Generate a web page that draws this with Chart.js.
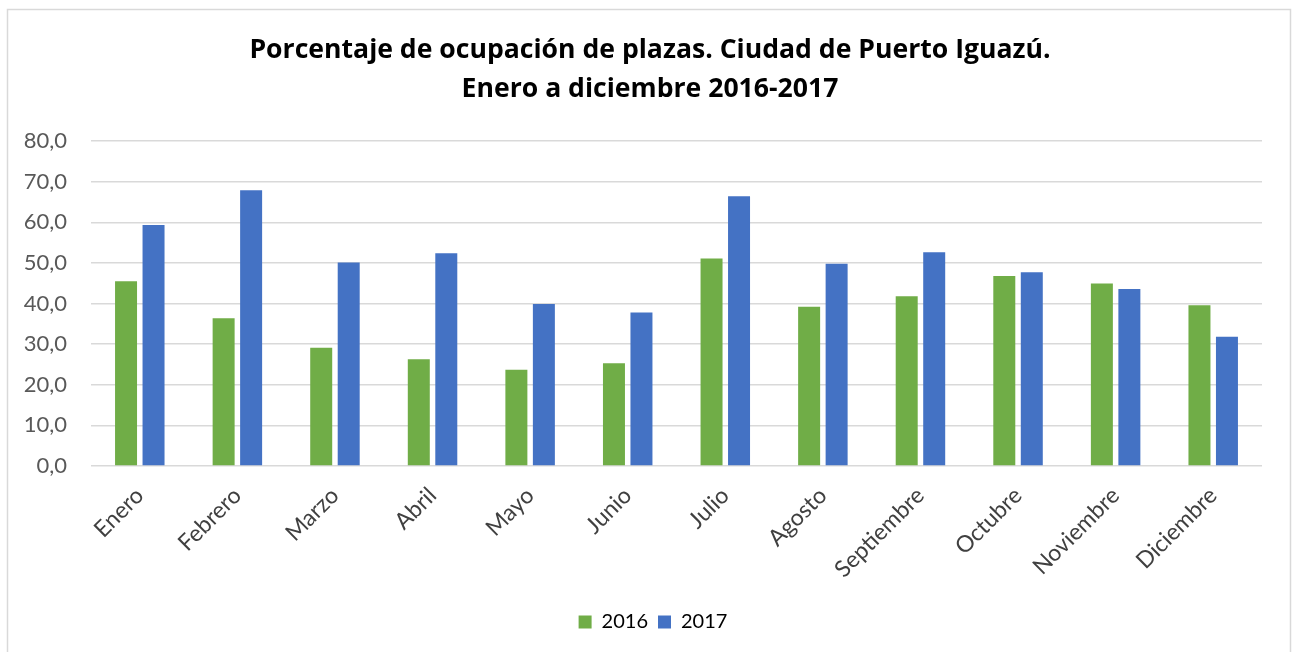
<!DOCTYPE html>
<html>
<head>
<meta charset="utf-8">
<script src="https://cdn.jsdelivr.net/npm/chart.js@4"></script>
<style>
  html, body { margin: 0; padding: 0; background: #ffffff; }
  #c { display: block; }
</style>
</head>
<body>
<canvas id="c" width="1293" height="652"></canvas>
<script>
const months = ["Enero", "Febrero", "Marzo", "Abril", "Mayo", "Junio", "Julio", "Agosto", "Septiembre", "Octubre", "Noviembre", "Diciembre"];
const values2016 = [45.5, 36.4, 29.1, 26.3, 23.7, 25.3, 51.1, 39.2, 41.8, 46.8, 44.9, 39.6];
const values2017 = [59.3, 67.9, 50.1, 52.4, 39.9, 37.8, 66.4, 49.8, 52.6, 47.7, 43.6, 31.8];
const titleLines = ["Porcentaje de ocupación de plazas. Ciudad de Puerto Iguazú.", "Enero a diciembre 2016-2017"];
const seriesLabels = ["2016", "2017"];

const FONT = "Lato, 'Open Sans', sans-serif";
const TITLE_FONT = "'Open Sans', Lato, sans-serif";

const framePlugin = {
  id: 'frame',
  afterLayout(chart) {
    if (chart.titleBlock) { chart.titleBlock.left = 38; }
    if (chart.legend) { chart.legend.left = 44; }
  },
  beforeDraw(chart) {
    const ctx = chart.ctx;
    ctx.save();
    ctx.fillStyle = '#ffffff';
    ctx.fillRect(0, 0, chart.width, chart.height);
    ctx.strokeStyle = '#D9D9D9';
    ctx.lineWidth = 1.5;
    ctx.beginPath();
    ctx.moveTo(7.5, chart.height);
    ctx.lineTo(7.5, 9.5);
    ctx.lineTo(1290.5, 9.5);
    ctx.lineTo(1290.5, chart.height);
    ctx.stroke();
    ctx.restore();
  }
};

new Chart(document.getElementById('c'), {
  type: 'bar',
  data: {
    labels: months,
    datasets: [
      { label: seriesLabels[0], data: values2016, backgroundColor: '#70AD47', borderWidth: 0,
        categoryPercentage: 0.5635, barPercentage: 0.8 },
      { label: seriesLabels[1], data: values2017, backgroundColor: '#4472C4', borderWidth: 0,
        categoryPercentage: 0.5635, barPercentage: 0.8 }
    ]
  },
  options: {
    responsive: false,
    animation: false,
    layout: { padding: { left: 8, right: 31, top: 0, bottom: 10 } },
    plugins: {
      title: {
        display: true,
        text: titleLines,
        color: '#000000',
        font: { family: TITLE_FONT, size: 26.6, weight: 'bold', lineHeight: 39 / 26.6 },
        padding: { top: 30.5, bottom: 32.5 }
      },
      legend: {
        position: 'bottom',
        labels: {
          color: '#000000',
          font: { family: FONT, size: 20 },
          boxWidth: 13,
          boxHeight: 13,
          padding: 10
        }
      },
      tooltip: { enabled: false }
    },
    scales: {
      x: {
        grid: { display: false, drawTicks: false },
        border: { display: false },
        ticks: {
          color: '#404040',
          font: { family: FONT, size: 23 },
          maxRotation: 45,
          minRotation: 45,
          padding: 16,
          autoSkip: false
        },
        afterFit(axis) { axis.height = 136; }
      },
      y: {
        min: 0,
        max: 80,
        grid: { color: '#D9D9D9', lineWidth: 1.5, drawTicks: false },
        border: { display: false },
        ticks: {
          stepSize: 10,
          color: '#595959',
          font: { family: FONT, size: 22 },
          padding: 24,
          callback: (v) => Number(v).toFixed(1).replace('.', ',')
        },
        afterFit(axis) { axis.width = 83; }
      }
    }
  },
  plugins: [framePlugin]
});
</script>
</body>
</html>
